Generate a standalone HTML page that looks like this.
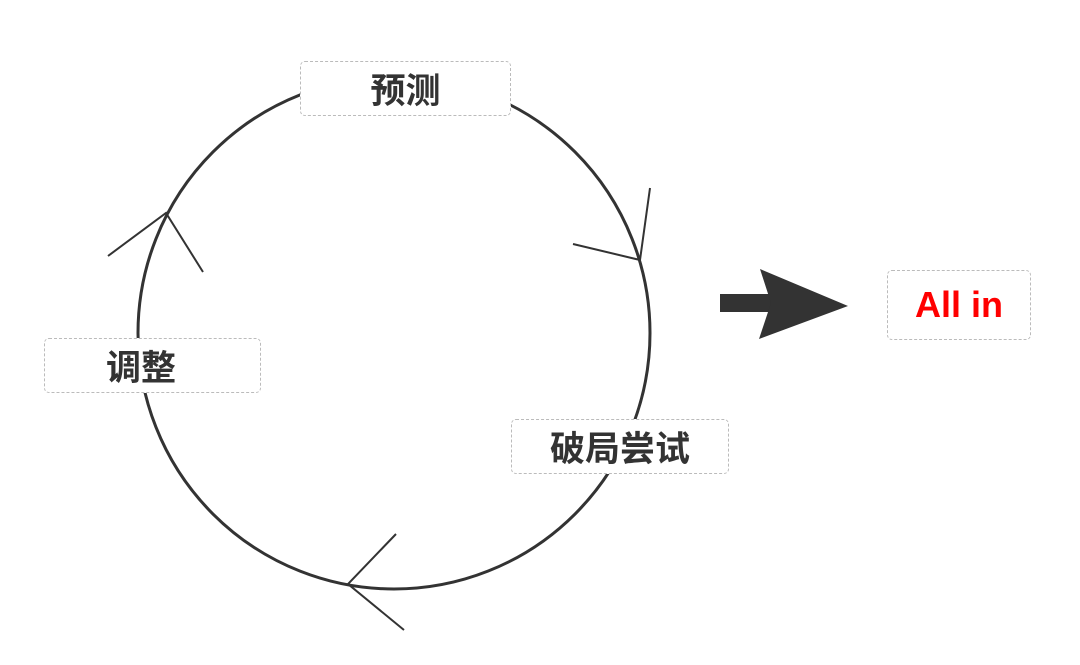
<!DOCTYPE html>
<html><head><meta charset="utf-8"><style>
body{margin:0;background:#fff;width:1080px;height:665px;overflow:hidden;position:relative;font-family:"Liberation Sans","Noto Sans CJK SC",sans-serif}
.b{position:absolute;box-sizing:border-box;border:1px dashed #bbb;border-radius:5px;background:#fff;display:flex;align-items:center;justify-content:center;font-weight:bold;font-size:35px;color:#333}
</style></head><body>
<svg width="1080" height="665" style="position:absolute;left:0;top:0">
<circle cx="394" cy="333" r="256" fill="none" stroke="#333" stroke-width="3"/>
<g stroke="#333" stroke-width="2" fill="none">
<polyline points="573,244 640,260 650,188"/>
<polyline points="108,256 166,213 203,272"/>
<polyline points="396,534 348,584 404,630"/>
</g>
<rect x="720" y="294" width="55" height="18" fill="#333"/>
<polygon points="760,269 848,306 759,339 771,303" fill="#333"/>
</svg>
<div class="b" style="left:300px;top:61px;width:211px;height:55px">预测</div>
<div class="b" style="left:44px;top:338px;width:217px;height:55px;justify-content:flex-start;padding-left:61px">调整</div>
<div class="b" style="left:511px;top:419px;width:218px;height:55px">破局尝试</div>
<div class="b" style="left:887px;top:270px;width:144px;height:70px;color:#f00;font-size:36px">All in</div>
</body></html>
